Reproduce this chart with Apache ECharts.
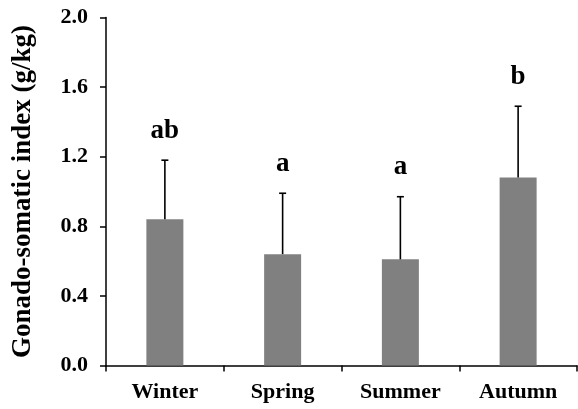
<!DOCTYPE html>
<html>
<head>
<meta charset="utf-8">
<script src="https://cdn.jsdelivr.net/npm/echarts@6/dist/echarts.min.js"></script>
<style>
  html, body { margin: 0; padding: 0; background: #fff; }
  #chart { width: 578px; height: 409px; }
</style>
</head>
<body>
<div id="chart"></div>
<script>
// Seasonal gonado-somatic index: mean with upward SD bar and group letters
const seasons = ['Winter', 'Spring', 'Summer', 'Autumn'];
const meanGSI = [0.84, 0.64, 0.61, 1.08];
const sdGSI = [0.34, 0.35, 0.36, 0.41];
const groupLetters = ['ab', 'a', 'a', 'b'];
const yTicks = [0.0, 0.4, 0.8, 1.2, 1.6, 2.0];

const serif = '"Liberation Serif", "Times New Roman", serif';

const errData = seasons.map((s, i) => [i, meanGSI[i], meanGSI[i] + sdGSI[i], groupLetters[i]]);

const chart = echarts.init(document.getElementById('chart'), null, { renderer: 'canvas' });

chart.setOption({
  animation: false,
  backgroundColor: '#ffffff',
  grid: { left: 106, right: 1, top: 17.5, bottom: 43.5, containLabel: false, outerBoundsMode: 'none' },
  xAxis: {
    type: 'category',
    data: seasons,
    boundaryGap: true,
    axisLine: { show: true, lineStyle: { color: '#000', width: 1.5 } },
    axisTick: { show: true, alignWithLabel: false, inside: false, length: 6, lineStyle: { color: '#000', width: 1.5 } },
    axisLabel: { margin: 16, color: '#000', fontFamily: serif, fontWeight: 'bold', fontSize: 22 },
    splitLine: { show: false }
  },
  yAxis: {
    type: 'value',
    min: yTicks[0],
    max: yTicks[yTicks.length - 1],
    interval: 0.4,
    name: 'Gonado-somatic index (g/kg)',
    nameLocation: 'middle',
    nameRotate: 90,
    nameGap: 69,
    nameTextStyle: { color: '#000', fontFamily: serif, fontWeight: 'bold', fontSize: 27 },
    axisLine: { show: true, lineStyle: { color: '#000', width: 1.5 } },
    axisTick: { show: true, inside: false, length: 6, lineStyle: { color: '#000', width: 1.5 } },
    axisLabel: {
      margin: 18, color: '#000', fontFamily: serif, fontWeight: 'bold', fontSize: 22,
      formatter: v => v.toFixed(1)
    },
    splitLine: { show: false }
  },
  series: [
    {
      type: 'bar',
      data: meanGSI,
      barWidth: 37,
      itemStyle: { color: '#808080' },
      z: 2
    },
    {
      type: 'custom',
      data: errData,
      z: 3,
      renderItem: function (params, api) {
        const i = api.value(0);
        const base = api.coord([i, api.value(1)]);
        const top = api.coord([i, api.value(2)]);
        const cap = 3.5;
        return {
          type: 'group',
          children: [
            { type: 'line', shape: { x1: top[0], y1: base[1], x2: top[0], y2: top[1] },
              style: { stroke: '#000', lineWidth: 1.6 } },
            { type: 'line', shape: { x1: top[0] - cap, y1: top[1], x2: top[0] + cap, y2: top[1] },
              style: { stroke: '#000', lineWidth: 1.6 } },
            { type: 'text', x: top[0], y: top[1] - 16,
              style: { text: api.value(3), textAlign: 'center', textVerticalAlign: 'bottom',
                       fill: '#000', font: 'bold 27px ' + serif } }
          ]
        };
      }
    }
  ]
});
</script>
</body>
</html>
